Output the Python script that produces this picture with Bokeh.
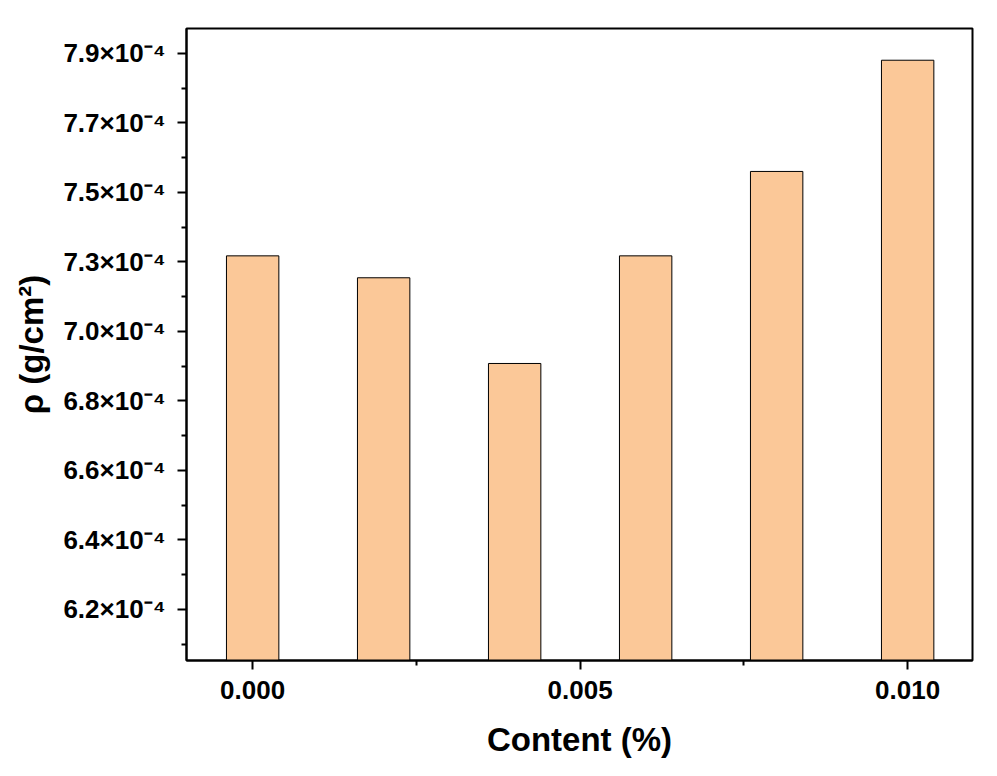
from bokeh.plotting import figure
from bokeh.models import Range1d, FixedTicker
from bokeh.embed import file_html
from bokeh.resources import INLINE

# Content (%) and areal density rho (g/cm^2)
content = [0.000, 0.002, 0.004, 0.006, 0.008, 0.010]
rho = [7.281e-4, 7.214e-4, 6.952e-4, 7.281e-4, 7.539e-4, 7.879e-4]

x_ticks = [0.000, 0.005, 0.010]
x_minor = [0.0025, 0.0075]
x_labels = ["0.000", "0.005", "0.010"]

y_ticks = [6.2e-4, 6.4125e-4, 6.625e-4, 6.8375e-4, 7.05e-4, 7.2625e-4, 7.475e-4, 7.6875e-4, 7.9e-4]
y_labels = ["6.2×10⁻⁴", "6.4×10⁻⁴", "6.6×10⁻⁴", "6.8×10⁻⁴", "7.0×10⁻⁴",
            "7.3×10⁻⁴", "7.5×10⁻⁴", "7.7×10⁻⁴", "7.9×10⁻⁴"]
y_minor = [6.09375e-4, 6.30625e-4, 6.51875e-4, 6.73125e-4, 6.94375e-4,
           7.15625e-4, 7.36875e-4, 7.58125e-4, 7.79375e-4]

FONT = "Liberation Sans"

p = figure(frame_width=786, frame_height=632, output_backend="svg", toolbar_location=None,
           x_range=Range1d(-0.00101, 0.01099), y_range=Range1d(6.044e-4, 7.976e-4))
p.min_border_left = 186
p.min_border_right = 10
p.min_border_top = 28
p.min_border_bottom = 108

p.vbar(x=content, top=rho, bottom=0, width=0.0008,
       fill_color="#FBC898", line_color="black", line_width=1)

p.xgrid.visible = False
p.ygrid.visible = False
p.outline_line_color = "black"
p.outline_line_width = 2
p.outline_line_alpha = 1

p.xaxis.ticker = FixedTicker(ticks=x_ticks, minor_ticks=x_minor)
p.xaxis.major_label_overrides = dict(zip(x_ticks, x_labels))
p.yaxis.ticker = FixedTicker(ticks=y_ticks, minor_ticks=y_minor)
p.yaxis.major_label_overrides = dict(zip(y_ticks, y_labels))

p.xaxis.axis_label = "Content (%)"
p.yaxis.axis_label = "ρ (g/cm²)"

for ax in (p.xaxis, p.yaxis):
    ax.axis_line_color = "black"
    ax.axis_line_width = 2
    ax.major_tick_line_color = "black"
    ax.major_tick_line_width = 2
    ax.major_tick_out = 9
    ax.major_tick_in = 0
    ax.minor_tick_line_color = "black"
    ax.minor_tick_line_width = 2
    ax.minor_tick_out = 5
    ax.minor_tick_in = 0
    ax.major_label_text_font = FONT
    ax.major_label_text_font_style = "bold"
    ax.major_label_text_font_size = "26px"
    ax.major_label_text_color = "black"
    ax.axis_label_text_font = FONT
    ax.axis_label_text_font_style = "bold"
    ax.axis_label_text_font_size = "33px"
    ax.axis_label_text_color = "black"

p.xaxis.major_label_standoff = 11
p.yaxis.major_label_standoff = 12
p.xaxis.axis_label_standoff = 19
p.yaxis.axis_label_standoff = 10

open("out.html", "w").write(file_html(p, INLINE))
